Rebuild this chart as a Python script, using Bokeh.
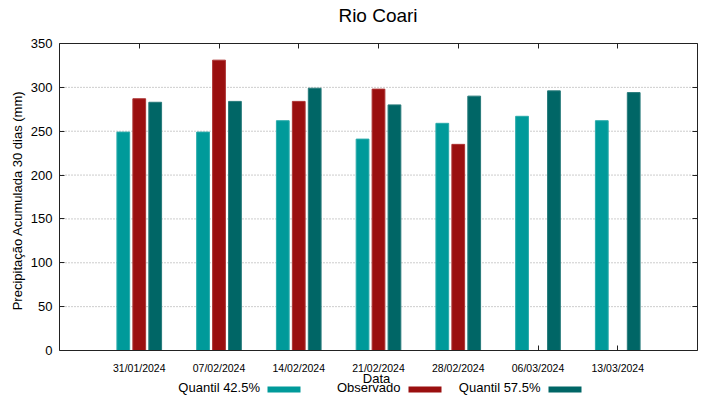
from bokeh.plotting import figure
from bokeh.models import (ColumnDataSource, FixedTicker, LinearAxis, Range1d,
                          Label, BoxAnnotation, CustomJSTickFormatter)
from bokeh.transform import dodge
from bokeh.embed import file_html
from bokeh.resources import INLINE

# ---- data ----
dates = ["31/01/2024", "07/02/2024", "14/02/2024", "21/02/2024",
         "28/02/2024", "06/03/2024", "13/03/2024"]
quantil_425 = [249, 249, 262, 241, 259, 267, 262]
observado = [287, 331, 284, 298, 235, None, None]
quantil_575 = [283, 284, 299, 280, 290, 296, 294]
y_ticks = [0, 50, 100, 150, 200, 250, 300, 350]
title_text = "Rio Coari"
y_label = "Precipitação Acumulada 30 dias (mm)"
x_label = "Data"
series_names = ["Quantil 42.5%", "Observado", "Quantil 57.5%"]
colors = ["#009a9a", "#9a0f0f", "#006666"]
edge_colors = ["#2aabab", "#ad3434", "#267a7a"]

# ---- layout (pixels) ----
FONT = "Liberation Sans"
W, H = 719, 399
BOX_L, BOX_R, BOX_T, BOX_B = 59, 697, 43, 350   # plot box on the canvas
X0, X1 = -1, len(dates)                         # data extent of the box in x
Y0, Y1 = y_ticks[0], y_ticks[-1]                # data extent of the box in y
kx = (BOX_R - BOX_L) / (X1 - X0)
ky = (BOX_B - BOX_T) / (Y1 - Y0)
x_range = Range1d(X0 - BOX_L / kx, X1 + (W - BOX_R) / kx)
y_range = Range1d(Y0 - (H - BOX_B) / ky, Y1 + BOX_T / ky)

idx = list(range(len(dates)))
src_all = ColumnDataSource(dict(x=idx, q1=quantil_425, q2=quantil_575))
obs_idx = [i for i, v in zip(idx, observado) if v is not None]
obs_val = [v for v in observado if v is not None]
src_obs = ColumnDataSource(dict(x=obs_idx, obs=obs_val))
grid_y = y_ticks[1:-1]
src_grid = ColumnDataSource(dict(y=grid_y, x0=[X0] * len(grid_y),
                                 x1=[X1] * len(grid_y)))

p = figure(width=W, height=H, output_backend="svg", toolbar_location=None,
           x_range=x_range, y_range=y_range,
           min_border=0, min_border_left=0, min_border_right=0,
           min_border_top=0, min_border_bottom=0)
p.background_fill_color = "white"
p.border_fill_color = "white"
p.outline_line_color = None
p.xgrid.visible = False
p.ygrid.visible = False

yt = FixedTicker(ticks=y_ticks)
xt = FixedTicker(ticks=idx)
AX = "#222222"
blank = CustomJSTickFormatter(code="return ''")

# bottom ticks drawn underneath the bars
bt = LinearAxis(ticker=xt, fixed_location=Y0, bounds=(X0, X1),
                major_tick_in=5, major_tick_out=0, formatter=blank,
                minor_tick_line_color=None, axis_line_color=None,
                major_tick_line_color=AX, major_label_standoff=0,
                level="underlay")
p.add_layout(bt, "below")

# dotted horizontal grid inside the box
p.segment(x0="x0", x1="x1", y0="y", y1="y", source=src_grid,
          line_color="#9a9a9a", line_dash="1 2", line_width=1)

bw = 0.16
p.vbar(x=dodge("x", -0.2, range=p.x_range), top="q1", width=bw, source=src_all,
       fill_color=colors[0], line_color=edge_colors[0], line_width=1)
p.vbar(x="x", top="obs", width=bw, source=src_obs,
       fill_color=colors[1], line_color=edge_colors[1], line_width=1)
p.vbar(x=dodge("x", 0.2, range=p.x_range), top="q2", width=bw, source=src_all,
       fill_color=colors[2], line_color=edge_colors[2], line_width=1)

# bottom axis: line and date labels
xa = p.xaxis[0]
xa.ticker = xt
xa.fixed_location = Y0
xa.bounds = (X0, X1)
xa.major_label_overrides = {i: d for i, d in enumerate(dates)}
xa.major_label_text_font = FONT
xa.major_label_text_font_size = "10.5px"
xa.major_label_text_color = "black"
xa.major_label_standoff = 11
xa.major_tick_in = 0
xa.major_tick_out = 0
xa.major_tick_line_color = None
xa.minor_tick_line_color = None
xa.axis_line_color = AX

# left axis
ya = p.yaxis[0]
ya.ticker = yt
ya.fixed_location = X0
ya.bounds = (Y0, Y1)
ya.major_label_text_font = FONT
ya.major_label_text_font_size = "13px"
ya.major_label_text_color = "black"
ya.major_label_standoff = 7
ya.major_tick_in = 5
ya.major_tick_out = 0
ya.minor_tick_line_color = None
ya.axis_line_color = AX
ya.major_tick_line_color = AX

# mirrored axes (ticks only)
ra = LinearAxis(ticker=yt, fixed_location=X1, bounds=(Y0, Y1),
                major_tick_in=5, major_tick_out=0, formatter=blank,
                minor_tick_line_color=None, axis_line_color=AX,
                major_tick_line_color=AX, major_label_standoff=0)
p.add_layout(ra, "right")
ta = LinearAxis(ticker=xt, fixed_location=Y1, bounds=(X0, X1),
                major_tick_in=5, major_tick_out=0, formatter=blank,
                minor_tick_line_color=None, axis_line_color=AX,
                major_tick_line_color=AX, major_label_standoff=0)
p.add_layout(ta, "above")

# title and axis labels (screen units, origin bottom-left of canvas)
def lab(x, y, text, size, **kw):
    p.add_layout(Label(x=x, y=y, x_units="screen", y_units="screen",
                       text=text, text_font=FONT, text_font_size=size,
                       text_baseline="middle", text_color="black", **kw))

lab(377.5, H - 15, title_text, "19px", text_align="center")
lab(17, H - 200, y_label, "13px", text_align="center", angle=1.5707963)
lab(376, H - 378, x_label, "13px", text_align="center")

# legend: text then swatch
leg_text_right = [259.5, 400, 540]
leg_sw_left = [267, 408, 548]
for name, col, tr, sl in zip(series_names, colors, leg_text_right, leg_sw_left):
    lab(tr, H - 386.5, name, "13px", text_align="right")
    p.add_layout(BoxAnnotation(left=sl, right=sl + 33, bottom=H - 392,
                               top=H - 386,
                               left_units="screen", right_units="screen",
                               bottom_units="screen", top_units="screen",
                               fill_color=col, fill_alpha=1, line_color=None))

open("out.html", "w").write(file_html(p, INLINE))
